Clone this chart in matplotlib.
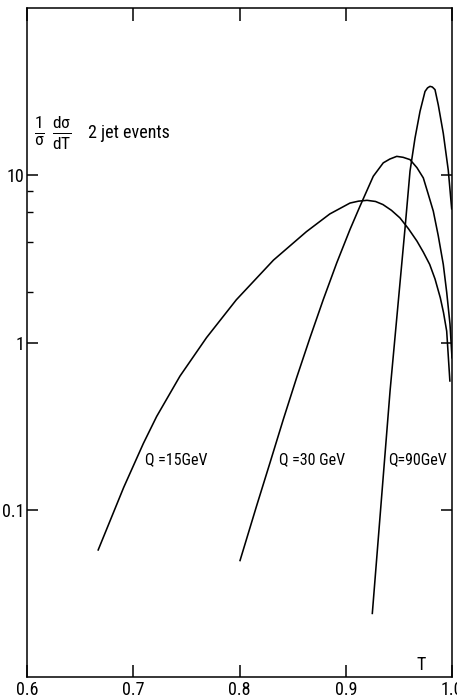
import matplotlib
matplotlib.use("Agg")
import matplotlib.pyplot as plt
import matplotlib.font_manager as fm
from matplotlib.ticker import FixedLocator, NullFormatter

# the original lettering is a narrow grotesque; use a narrow/condensed face if one is installed
def pick_font():
    prefs = ["liberation sans narrow", "dejavu sans condensed", "roboto condensed", "open sans condensed"]
    found = []
    for f in fm.fontManager.ttflist:
        low = (f.name + " " + f.fname).lower()
        if f.style != "normal" or "bold" in low or "oblique" in low or "italic" in low or "mono" in low:
            continue
        if "narrow" in low or "condensed" in low or "condensed" in str(f.stretch):
            found.append(f)
    for p in prefs:
        for f in found:
            if p in (f.name + " " + f.fname).lower().replace("-", " "):
                return f
    return found[0] if found else None

cf = pick_font()
if cf is not None:
    FP = fm.FontProperties(fname=cf.fname)
    BASE = cf.name
else:
    FP = fm.FontProperties(family="Liberation Sans")
    BASE = "Liberation Sans"
plt.rcParams["font.family"] = [BASE, "Liberation Sans", "DejaVu Sans"]
plt.rcParams["mathtext.fontset"] = "custom"
plt.rcParams["mathtext.rm"] = BASE
plt.rcParams["mathtext.it"] = BASE

# thrust distributions (T, 1/sigma dsigma/dT)
T_15 = [0.667, 0.691, 0.7095, 0.722, 0.744, 0.769, 0.797, 0.832, 0.863, 0.885,
        0.904, 0.912, 0.920, 0.928, 0.935, 0.943, 0.951, 0.959, 0.967, 0.973,
        0.979, 0.984, 0.989, 0.992, 0.995, 0.998]
Y_15 = [0.0575, 0.136, 0.249, 0.361, 0.63, 1.07, 1.80, 3.11, 4.60, 5.87,
        6.82, 7.0, 7.08, 6.97, 6.68, 6.17, 5.56, 4.79, 4.04, 3.47,
        2.93, 2.40, 1.85, 1.51, 1.17, 0.589]

T_30 = [0.8005, 0.8162, 0.8287, 0.8413, 0.8538, 0.8664, 0.8789, 0.8915, 0.9040, 0.9134,
        0.9259, 0.9353, 0.9415, 0.9480, 0.954, 0.9605, 0.967, 0.9730, 0.9775, 0.9824,
        0.987, 0.9918, 0.995, 0.9981, 1.0]
Y_30 = [0.0497, 0.106, 0.191, 0.348, 0.617, 1.07, 1.81, 2.99, 4.74, 6.53,
        9.86, 11.86, 12.5, 12.97, 12.8, 12.4, 11.1, 9.64, 7.76, 6.10,
        4.37, 2.93, 2.0, 1.29, 0.81]

T_90 = [0.925, 0.9417, 0.9558, 0.9605, 0.9652, 0.9699, 0.9746, 0.977, 0.9793, 0.9815,
        0.984, 0.9871, 0.9918, 0.9965, 0.9997]
Y_90 = [0.024, 0.513, 4.83, 10.6, 16.7, 24.1, 31.7, 33.3, 34.0, 33.7,
        32.5, 26.3, 17.8, 10.7, 6.3]

LABELS = ["Q =15GeV", "Q =30 GeV", "Q=90GeV"]
LABEL_T = [0.7115, 0.8375, 0.9395]
LABEL_Y = [0.2, 0.2, 0.2]

X_TICKS = [0.6, 0.7, 0.8, 0.9, 1.0]
X_TICKLABELS = ["0.6", "0.7", "0.8", "0.9", "1.0"]
Y_TICKS = [0.1, 1, 10]
Y_TICKLABELS = ["0.1", "1", "10"]
Y_MINOR = [2, 4, 6, 8]

fig = plt.figure(figsize=(4.57, 6.99), dpi=100)
ax = fig.add_axes([27 / 457, 22 / 699, 425 / 457, 669 / 699])

for t, y in [(T_15, Y_15), (T_30, Y_30), (T_90, Y_90)]:
    ax.plot(t, y, color="black", lw=1.15, solid_joinstyle="round")

for lab, t, y in zip(LABELS, LABEL_T, LABEL_Y):
    ax.text(t, y, lab, fontproperties=FP, fontsize=11.5, va="center", ha="left")

ax.set_yscale("log")
ax.set_xlim(0.6, 1.0)
ax.set_ylim(0.01, 100)

ax.set_xticks(X_TICKS, X_TICKLABELS)
ax.set_yticks(Y_TICKS, Y_TICKLABELS)
for lab in ax.get_xticklabels() + ax.get_yticklabels():
    lab.set_fontproperties(FP)
    lab.set_fontsize(13)
ax.yaxis.set_minor_locator(FixedLocator(Y_MINOR))
ax.yaxis.set_minor_formatter(NullFormatter())
ax.xaxis.set_minor_locator(FixedLocator([]))

ax.tick_params(axis="both", which="major", direction="in", length=8, width=1.1,
               top=True, right=True, labelright=False, labeltop=False)
ax.tick_params(axis="x", which="major", pad=3, length=9)
ax.tick_params(axis="y", which="major", pad=2)
ax.tick_params(axis="y", which="minor", direction="in", length=4, width=1.0, right=False)

for s in ax.spines.values():
    s.set_linewidth(1.1)

# y-axis label sits inside the frame, as in the original
ax.text(0.017, 0.813, r"$\frac{1}{\sigma}\ \frac{d\sigma}{dT}$", transform=ax.transAxes,
        fontsize=18, va="center", ha="left")
ax.text(0.143, 0.813, "2 jet events", transform=ax.transAxes,
        fontproperties=FP, fontsize=13, va="center", ha="left")
ax.text(0.927, 0.004, "T", transform=ax.transAxes, fontproperties=FP,
        fontsize=13, va="bottom", ha="center")

fig.savefig("out.png", dpi=100, facecolor="white")
plt.close(fig)
